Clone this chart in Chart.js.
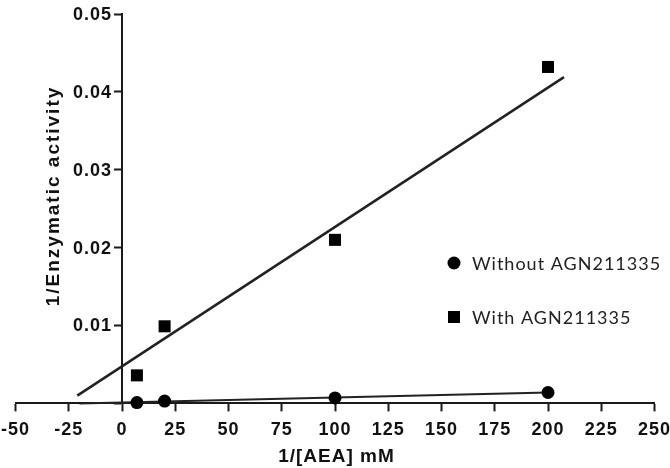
<!DOCTYPE html>
<html>
<head>
<meta charset="utf-8">
<script src="https://cdn.jsdelivr.net/npm/chart.js@4.4.1/dist/chart.umd.min.js"></script>
<style>
    html, body { margin: 0; padding: 0; background: #fff; }
    #wrap { width: 670px; height: 468px; position: relative; }
</style>
</head>
<body>
<div id="wrap"><canvas id="lbChart"></canvas></div>
<script>
// measured points (1/[AEA] vs 1/activity)
const aeaInv = [7, 20, 100, 200];
const withoutAgn = [0.0001, 0.0003, 0.0007, 0.0014];
const withAgn = [0.0036, 0.0099, 0.021, 0.0432];

// fitted lines (end points)
const withFitX = [-21, 207.5];
const withFitY = [0.001, 0.0419];
const withoutFitX = [-20, 200];
const withoutFitY = [0.0, 0.0014];

const xTicks = [-50, -25, 0, 25, 50, 75, 100, 125, 150, 175, 200, 225, 250];
const yTicks = [0, 0.01, 0.02, 0.03, 0.04, 0.05];

const xTitle = '1/[AEA] mM';
const yTitle = '1/Enzymatic activity';
const legendLabels = ['Without AGN211335', 'With AGN211335'];

const ink = '#111';
const axisFont = '"Liberation Sans", Arial, sans-serif';
const toXY = (xs, ys) => xs.map((x, i) => ({x: x, y: ys[i]}));

// canvas letter spacing gets reset on resize, so set it again before each pass
const spacingPlugin = {
    id: 'spacing',
    beforeUpdate(chart) { chart.ctx.letterSpacing = '1px'; },
    beforeDraw(chart) { chart.ctx.letterSpacing = '1px'; }
};

const labelsPlugin = {
    id: 'labels',
    afterDraw(chart) {
        const ctx = chart.ctx;
        const yScale = chart.scales.y;
        const axisX = chart.scales.x.getPixelForValue(0);
        ctx.save();
        ctx.fillStyle = ink;

        // y tick labels (chart.js puts them on the axis line when the axis sits at x=0)
        ctx.font = 'bold 18px ' + axisFont;
        ctx.letterSpacing = '1px';
        ctx.textAlign = 'right';
        ctx.textBaseline = 'middle';
        yTicks.forEach(v => {
            if (v === 0) return;
            ctx.fillText(v.toFixed(2), axisX - 10, yScale.getPixelForValue(v) + 1);
        });

        // y title, bottom to top
        ctx.font = 'bold 19px ' + axisFont;
        ctx.letterSpacing = '2px';
        ctx.textBaseline = 'alphabetic';
        ctx.textAlign = 'left';
        ctx.save();
        ctx.translate(59, 197);
        ctx.rotate(-Math.PI / 2);
        let w = ctx.measureText(yTitle).width - 2;
        ctx.fillText(yTitle, -w / 2, 0);
        ctx.restore();

        // x title
        ctx.letterSpacing = '1px';
        w = ctx.measureText(xTitle).width - 1;
        ctx.fillText(xTitle, 336 - w / 2, 462);

        // legend
        ctx.font = '18px Lato, "Open Sans", sans-serif';
        ctx.letterSpacing = '1px';
        ctx.textBaseline = 'middle';
        ctx.fillStyle = '#000';
        ctx.beginPath();
        ctx.arc(454, 263, 6.5, 0, Math.PI * 2);
        ctx.fill();
        ctx.fillRect(448, 311, 12, 12);
        ctx.fillStyle = '#222';
        ctx.fillText(legendLabels[0], 472, 264);
        ctx.fillText(legendLabels[1], 472, 318);
        ctx.restore();
    }
};

const tickFont = {family: axisFont, size: 18, weight: 'bold'};

new Chart(document.getElementById('lbChart'), {
    type: 'scatter',
    data: {
        datasets: [
            {
                label: legendLabels[0],
                data: toXY(aeaInv, withoutAgn),
                pointStyle: 'circle',
                pointRadius: 6.5,
                backgroundColor: '#000',
                borderColor: '#000',
                borderWidth: 0,
                clip: false
            },
            {
                label: legendLabels[1],
                data: toXY(aeaInv, withAgn),
                pointStyle: 'rect',
                pointRadius: 8.5,
                backgroundColor: '#000',
                borderColor: '#000',
                borderWidth: 0,
                clip: false
            },
            {
                type: 'line',
                data: toXY(withFitX, withFitY),
                borderColor: '#222',
                borderWidth: 2.5,
                pointRadius: 0,
                fill: false
            },
            {
                type: 'line',
                data: toXY(withoutFitX, withoutFitY),
                borderColor: '#222',
                borderWidth: 2,
                pointRadius: 0,
                fill: false,
                clip: false
            }
        ]
    },
    options: {
        responsive: true,
        maintainAspectRatio: false,
        animation: false,
        layout: {padding: {left: 15.5, right: 15.5, top: 14, bottom: 19}},
        plugins: {
            legend: {display: false},
            tooltip: {enabled: false}
        },
        scales: {
            x: {
                type: 'linear',
                min: -50,
                max: 250,
                afterBuildTicks: (axis) => { axis.ticks = xTicks.map(v => ({value: v})); },
                // end labels may hang outside the plot, like the original
                afterFit: (axis) => { axis.paddingLeft = 0; axis.paddingRight = 0; },
                ticks: {
                    color: ink,
                    font: tickFont,
                    padding: 8,
                    maxRotation: 0
                },
                grid: {drawOnChartArea: false, drawTicks: true, tickLength: 8, tickWidth: 2, tickColor: '#1a1a1a'},
                border: {display: true, width: 2, color: '#1a1a1a'}
            },
            y: {
                type: 'linear',
                position: {x: 0},
                min: 0,
                max: 0.05,
                afterBuildTicks: (axis) => { axis.ticks = yTicks.map(v => ({value: v})); },
                ticks: {display: false},
                grid: {drawOnChartArea: false, drawTicks: true, tickLength: 7, tickWidth: 2, tickColor: '#1a1a1a'},
                border: {display: true, width: 2, color: '#1a1a1a'}
            }
        }
    },
    plugins: [spacingPlugin, labelsPlugin]
});
</script>
</body>
</html>
